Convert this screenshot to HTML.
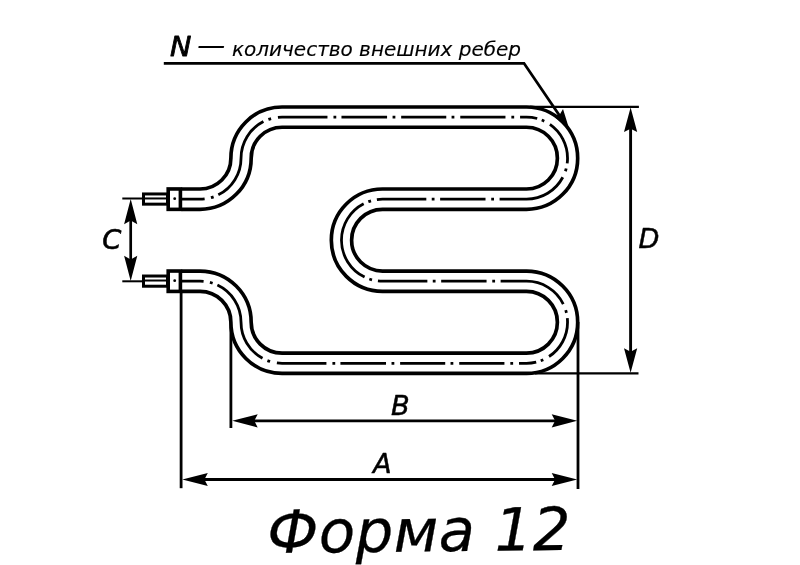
<!DOCTYPE html>
<html lang="ru">
<head>
<meta charset="utf-8">
<title>Форма 12</title>
<style>
html,body{margin:0;padding:0;background:#fff;}
body{width:800px;height:565px;overflow:hidden;}
svg{display:block;will-change:transform;}
text{font-family:"DejaVu Sans","Liberation Sans",sans-serif;font-style:italic;fill:#000;}
</style>
</head>
<body>
<svg width="800" height="565" viewBox="0 0 800 565">
<rect width="800" height="565" fill="#fff"/>
<!-- extension / dimension lines -->
<g stroke="#000" fill="none" stroke-linecap="butt">
  <line x1="530" y1="106.8" x2="638.9" y2="106.8" stroke-width="2.3"/>
  <line x1="535" y1="373.4" x2="638.5" y2="373.4" stroke-width="2.3"/>
  <line x1="630.6" y1="125" x2="630.6" y2="355" stroke-width="2.9"/>
  <line x1="578" y1="322" x2="578" y2="489" stroke-width="2.8"/>
  <line x1="230.9" y1="322" x2="230.9" y2="428" stroke-width="2.8"/>
  <line x1="181.1" y1="290" x2="181.1" y2="488.2" stroke-width="2.8"/>
  <line x1="250" y1="420.8" x2="558" y2="420.8" stroke-width="2.8"/>
  <line x1="200" y1="479.5" x2="558" y2="479.5" stroke-width="2.8"/>
  <line x1="122.3" y1="198.5" x2="144" y2="198.5" stroke-width="2"/>
  <line x1="122.3" y1="281.3" x2="144" y2="281.3" stroke-width="2"/>
  <line x1="130.7" y1="218" x2="130.7" y2="262" stroke-width="2.7"/>
</g>
<!-- tube -->
<path d="M181.5,199.16 H200.0 A41.03,41.03 0 0 0 241.03,158.13 A41.03,41.03 0 0 1 282.06,117.10 H526.5 A41.03,41.03 0 0 1 526.5,199.16 H382.5 A41.03,41.03 0 0 0 382.5,281.22 H526.5 A41.03,41.03 0 0 1 526.5,363.28 H282.06 A41.03,41.03 0 0 1 241.03,322.25 A41.03,41.03 0 0 0 200.0,281.22 H181.5" fill="none" stroke="#000" stroke-width="23.95"/>
<path d="M181.5,199.16 H200.0 A41.03,41.03 0 0 0 241.03,158.13 A41.03,41.03 0 0 1 282.06,117.10 H526.5 A41.03,41.03 0 0 1 526.5,199.16 H382.5 A41.03,41.03 0 0 0 382.5,281.22 H526.5 A41.03,41.03 0 0 1 526.5,363.28 H282.06 A41.03,41.03 0 0 1 241.03,322.25 A41.03,41.03 0 0 0 200.0,281.22 H181.5" fill="none" stroke="#fff" stroke-width="16.65"/>
<path d="M181.5,199.16 H200.0 A41.03,41.03 0 0 0 241.03,158.13 A41.03,41.03 0 0 1 282.06,117.10 H526.5 A41.03,41.03 0 0 1 526.5,199.16 H382.5 A41.03,41.03 0 0 0 382.5,281.22 H526.5 A41.03,41.03 0 0 1 526.5,363.28 H282.06 A41.03,41.03 0 0 1 241.03,322.25 A41.03,41.03 0 0 0 200.0,281.22 H181.5" fill="none" stroke="#000" stroke-width="2.8" stroke-dasharray="23.20 6.40 2.80 5.10 90.35 5.40 2.80 6.95 49.60 6.00 2.80 5.20 45.60 5.50 2.80 5.80 45.10 5.30 2.80 5.90 45.20 5.90 2.80 5.90 17.30 4.70 2.80 6.50 44.80 5.20 2.80 6.60 71.34 5.56 2.80 5.70 45.40 5.60 2.80 5.40 49.50 6.00 2.80 5.10 90.58 5.10 2.80 6.00 49.50 5.40 2.80 5.60 45.40 5.70 2.80 5.56 71.34 6.60 2.80 5.20 44.80 6.50 2.80 4.70 17.30 5.90 2.80 5.90 45.20 5.90 2.80 5.30 45.10 5.80 2.80 5.50 45.60 5.20 2.80 6.00 49.60 6.95 2.80 5.40 90.35 5.10 2.80 6.40 23.20 1000.00"/>
<!-- terminals -->
<rect x="143.5" y="193.96" width="24" height="10.2" fill="#fff" stroke="#000" stroke-width="3"/>
<line x1="144" y1="198.46" x2="167" y2="198.46" stroke="#000" stroke-width="2"/>
<rect x="168.2" y="188.96" width="12.2" height="20.4" fill="#fff" stroke="#000" stroke-width="3.6"/>
<circle cx="174.7" cy="198.66" r="1.4" fill="#000"/>
<rect x="143.5" y="276.02" width="24" height="10.2" fill="#fff" stroke="#000" stroke-width="3"/>
<line x1="144" y1="280.52" x2="167" y2="280.52" stroke="#000" stroke-width="2"/>
<rect x="168.2" y="271.02" width="12.2" height="20.4" fill="#fff" stroke="#000" stroke-width="3.6"/>
<circle cx="174.7" cy="280.72" r="1.4" fill="#000"/>
<!-- leader -->
<g stroke="#000" fill="none">
  <polyline points="163.8,63.3 524.0,63.3 565.10,123.69" stroke-width="2.8" stroke-linejoin="miter"/>
</g>
<!-- arrows -->
<g fill="#000" stroke="none">
  <polygon points="569.60,130.30 552.99,115.40 559.62,114.72 563.01,108.99"/>
  <polygon points="630.60,107.60 637.20,132.10 630.60,128.70 624.00,132.10"/>
  <polygon points="630.60,372.80 624.00,348.30 630.60,351.70 637.20,348.30"/>
  <polygon points="577.20,420.80 551.70,427.40 555.10,420.80 551.70,414.20"/>
  <polygon points="232.20,420.80 257.70,414.20 254.30,420.80 257.70,427.40"/>
  <polygon points="577.20,479.50 551.70,486.10 555.10,479.50 551.70,472.90"/>
  <polygon points="182.30,479.50 207.80,472.90 204.40,479.50 207.80,486.10"/>
  <polygon points="130.70,199.00 137.30,224.30 130.70,220.50 124.10,224.30"/>
  <polygon points="130.70,281.00 124.10,255.70 130.70,259.50 137.30,255.70"/>
</g>
<!-- labels -->
<g stroke="#000" stroke-linejoin="round">
<text transform="translate(169.9 55.6) scale(1.1 1)" font-size="26" stroke-width="0.8">N</text>
<text x="197.3" y="54.7" font-size="28" stroke-width="0.2">—</text>
<text x="232" y="55.8" font-size="20" textLength="289" lengthAdjust="spacing" stroke-width="0.15">количество внешних ребер</text>
<text x="102.3" y="248.9" font-size="27.3" stroke-width="0.6">C</text>
<text x="638.6" y="247.6" font-size="27.2" stroke-width="0.5">D</text>
<text x="390.9" y="414.5" font-size="27.2" stroke-width="0.5">B</text>
<text x="372.9" y="472.8" font-size="27.2" stroke-width="0.5">A</text>
<text x="267.5" y="550.3" font-size="59.4" letter-spacing="0.35" stroke-width="0.3" transform="rotate(-0.6 530 550.3)">Форма 12</text>
</g>
</svg>
</body>
</html>
